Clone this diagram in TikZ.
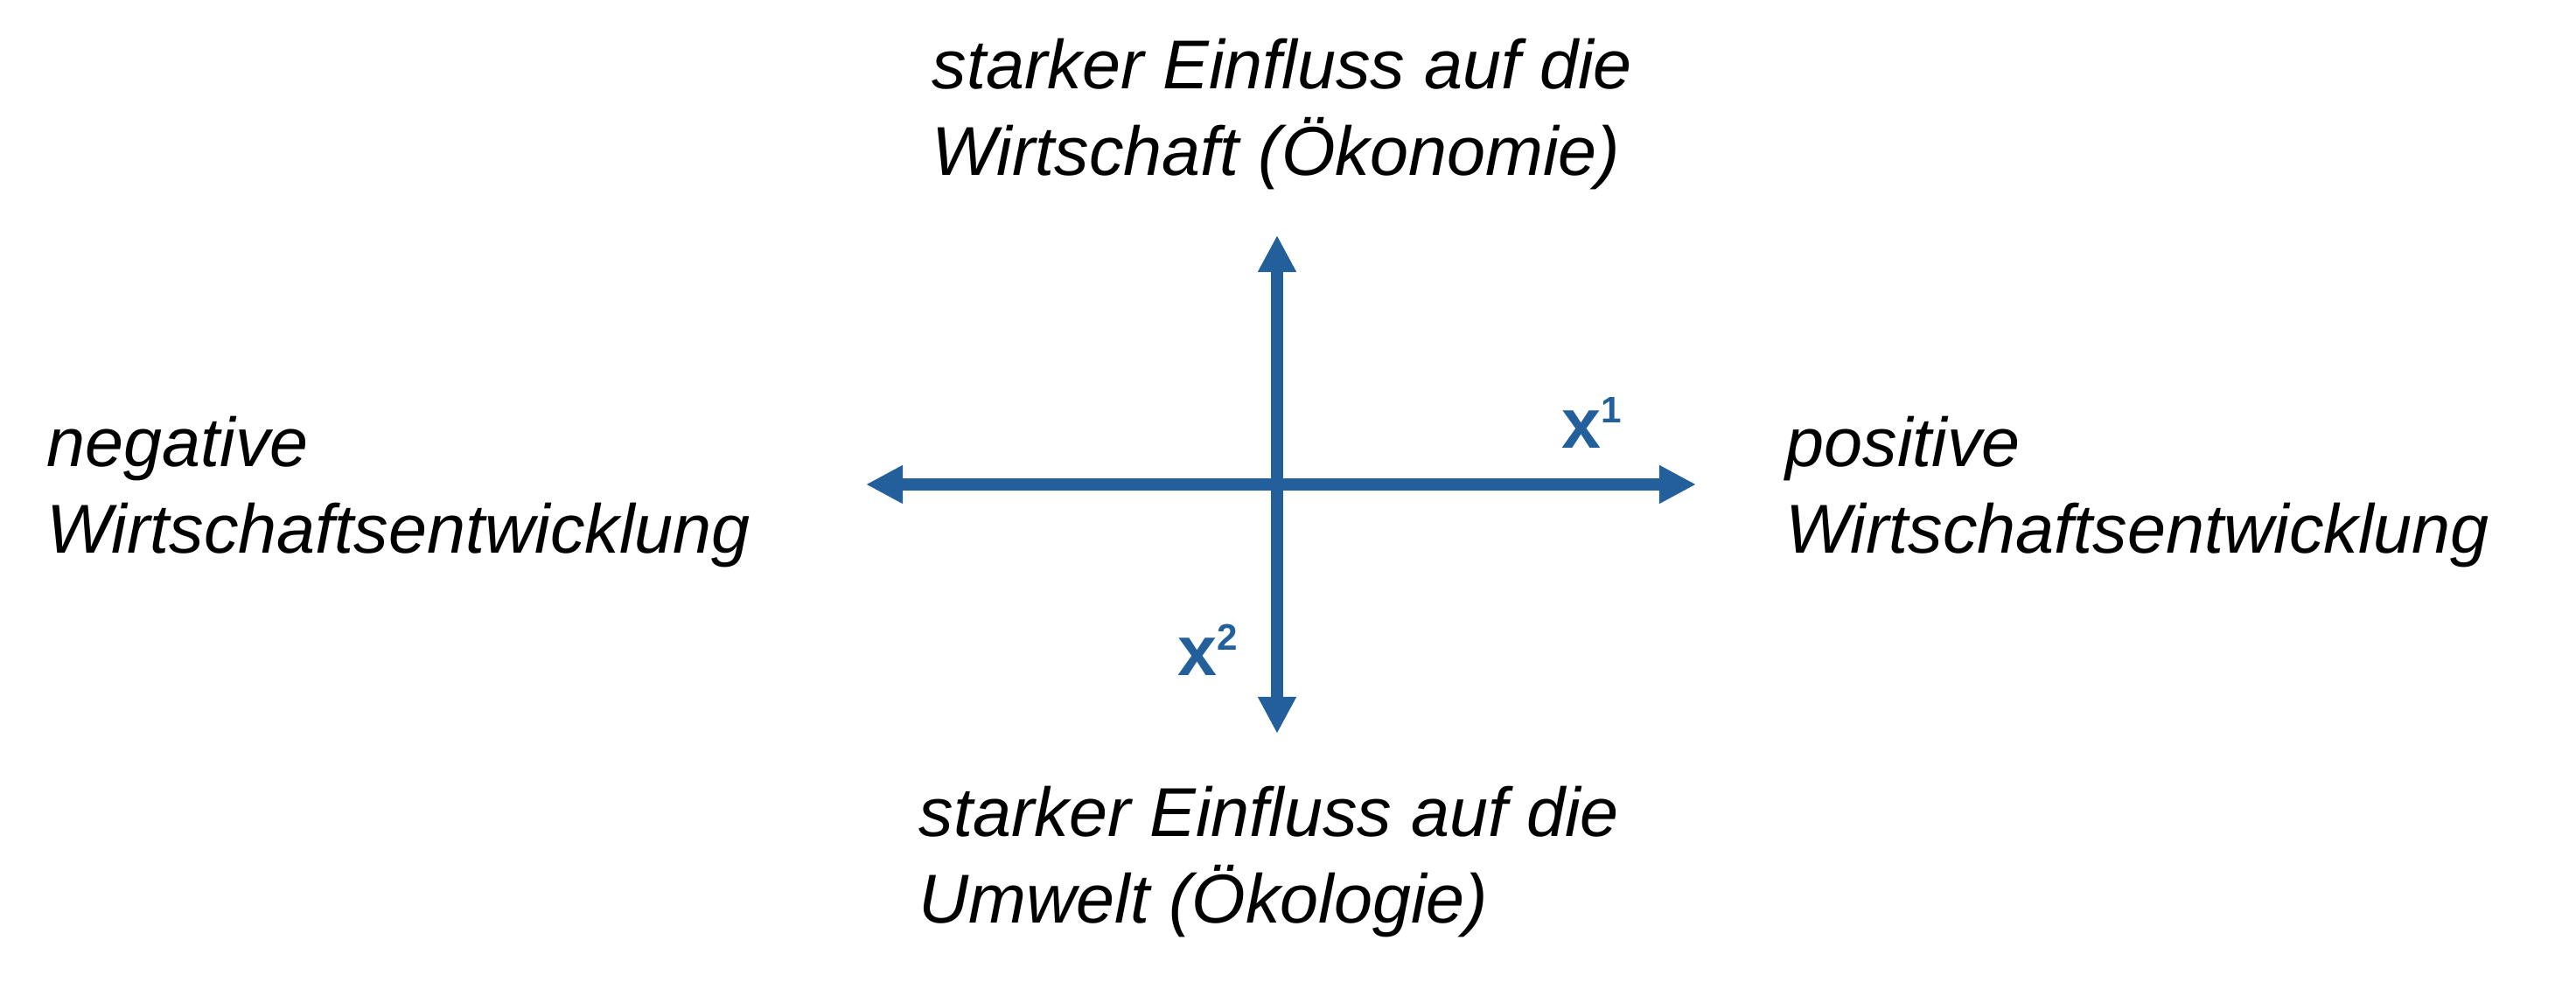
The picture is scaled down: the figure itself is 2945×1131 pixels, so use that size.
\documentclass[tikz,border=0pt]{standalone}
\usepackage{fontspec}
\setmainfont{Liberation Sans}
\usetikzlibrary{arrows.meta}
\definecolor{achsblau}{RGB}{35,96,155}
\newcommand\hochz[1]{\raisebox{0.29cm}{\fontsize{12pt}{14pt}\selectfont #1}}
\begin{document}
\begin{tikzpicture}[x=0.01cm,y=0.01cm,
	achse/.style={draw=achsblau,line width=3.8pt,
		{Triangle[length=4.2mm,width=4.1mm]}-{Triangle[length=4.2mm,width=4.1mm]}},
	txt/.style={anchor=base west,inner sep=0pt,align=left,
		font=\fontsize{22.5pt}{28.2pt}\selectfont\itshape},
	idx/.style={anchor=base west,inner sep=0pt,text=achsblau,
		font=\fontsize{23pt}{27pt}\selectfont\bfseries}]
	\useasboundingbox (0,0) rectangle (2945,1131);
	%Achsen
	\coordinate (L) at (990,577);
	\coordinate (R) at (1939,577);
	\coordinate (T) at (1460,862);
	\coordinate (B) at (1460,292);
	\draw[achse] (L) -- (R);
	\draw[achse] (B) -- (T);
	\node[idx] (xeins) at (1785,618) {x\hochz{1}};
	\node[idx] (xzwei) at (1346,358) {x\hochz{2}};
	%Beschriftung (base = letzte Zeile)
	\node[txt] (oben) at (1065,930) {starker Einfluss auf die\\Wirtschaft (Ökonomie)};
	\node[txt] (unten) at (1050,75) {starker Einfluss auf die\\Umwelt (Ökologie)};
	\node[txt] (links) at (53,498) {negative\\Wirtschaftsentwicklung};
	\node[txt] (rechts) at (2041,498) {positive\\Wirtschaftsentwicklung};
\end{tikzpicture}
\end{document}
